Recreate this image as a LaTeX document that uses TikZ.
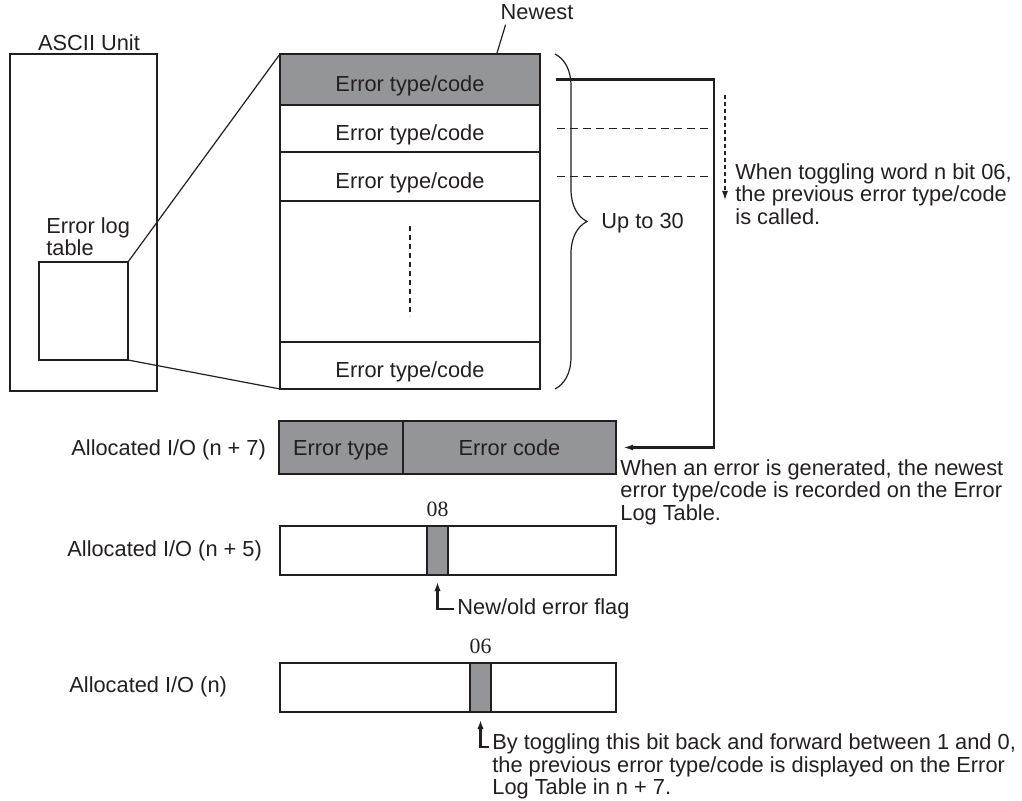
\documentclass[tikz,border=0pt]{standalone}
\usepackage{fontspec}
\setmainfont{Liberation Sans}
\newfontfamily\numfont{Liberation Serif}
\usetikzlibrary{arrows.meta,positioning,decorations.pathreplacing}
\definecolor{cellgray}{RGB}{147,149,152}
\definecolor{ink}{RGB}{35,31,32}

\begin{document}
\begin{tikzpicture}[
  x=0.5pt,y=-0.5pt,
  every node/.style={font=\fontsize{10.9}{11.4}\selectfont,text=ink},
  box/.style={draw=ink,line width=0.6pt,inner sep=0pt,outer sep=0pt},
  row/.style={box,minimum width=130pt,text height=14pt,text depth=2pt},
  reg/.style={box,fill=cellgray,minimum height=26.5pt,text height=10.5pt,text depth=2pt},
  shd/.style={fill=cellgray},
  bitc/.style={box,shd,line width=1pt,minimum width=10.5pt,minimum height=24.5pt},
  num/.style={font=\fontsize{10.9}{11.4}\selectfont\numfont,inner sep=0pt},
  note/.style={align=left,inner sep=0pt,anchor=north west},
  lbl/.style={anchor=west,inner sep=0pt},
  wire/.style={draw=ink,line width=0.6pt},
  dsh/.style={ink,line width=0.6pt,dash pattern=on 4pt off 2.5pt},
  feed/.style={ink,line width=1.4pt,-{Latex[length=5pt,width=3pt]}},
  ptr/.style={ink,line width=1.2pt,-{Latex[length=4.5pt,width=3.2pt]}}
]
  \useasboundingbox (0,0) rectangle (1022,801);

  % ASCII Unit with its error log table
  \node[box,minimum width=73.5pt,minimum height=168.5pt] (unit) at (83.5,222.5) {};
  \node[anchor=south,inner sep=1pt] (unitlbl) at (89,53) {ASCII Unit};
  \node[box,minimum width=44.5pt,minimum height=49pt] (log) at (83.5,311) {};
  \node[note] (loglbl) at (46,217) {Error log\\table};

  % the table, newest on top
  \node[row,shd,minimum height=25.5pt] (r1) at (410,79.5) {Error type/code};
  \node[row,minimum height=23.5pt,below=0pt of r1] (r2) {Error type/code};
  \node[row,minimum height=24.5pt,below=0pt of r2] (r3) {Error type/code};
  \node[row,minimum height=70.5pt,below=0pt of r3] (r4) {};
  \node[row,minimum height=23.5pt,below=0pt of r4] (r5) {Error type/code};
  \draw[dsh,dash pattern=on 2.5pt off 2pt] ([yshift=22.5pt]r4.center) -- ([yshift=-22.5pt]r4.center);
  \draw[wire] (log.north east) -- (r1.north west);
  \draw[wire] (log.south east) -- (r5.south west);

  \node (newest) at (537,12) {Newest};
  \coordinate (nwtip) at (497,53);
  \draw[wire] (nwtip) -- ([xshift=6pt,yshift=1pt]newest.south west);

  \draw[wire,decorate,decoration={brace,amplitude=16pt}]
    ([xshift=7.5pt]r1.north east) -- ([xshift=7.5pt]r5.south east);
  \node[lbl] (upto) at (601,223) {Up to 30};

  % Allocated I/O (n + 7)
  \node[reg,minimum width=62pt] (etype) at (341,447.5) {Error type};
  \node[reg,minimum width=106.5pt,right=0pt of etype] (ecode) {Error code};
  \node[lbl] (io7) at (71,450) {Allocated I/O (n + 7)};

  \coordinate (turn) at (714,0);
  \draw[feed] ([xshift=8pt]r1.east) -- (r1.east -| turn) |- ([xshift=3.5pt]ecode.east);
  \draw[dsh] ([xshift=8.5pt]r2.east) -- (r2.east -| turn);
  \draw[dsh] ([xshift=8.5pt]r3.east) -- (r3.east -| turn);

  \coordinate (callA) at (725,95);
  \coordinate (callB) at (725,200);
  \draw[dsh,dash pattern=on 2pt off 1.5pt,-{Latex[length=4.5pt,width=3pt]}] (callA) -- (callB);
  \node[note] (calltxt) at (735,163) {When toggling word n bit 06,\\the previous error type/code\\is called.};
  \node[note] (gentxt) at (620,459) {When an error is generated, the newest\\error type/code is recorded on the Error\\Log Table.};

  % Allocated I/O (n + 5)
  \node[box,minimum width=168pt,minimum height=24.5pt] (io5reg) at (448,550.5) {};
  \node[bitc] (bit8) at (437.5,550.5) {};
  \node[num,above=4.5pt of bit8] (b8lbl) {08};
  \node[lbl] (io5) at (67,551) {Allocated I/O (n + 5)};
  \node[lbl] (flag) at (457,609) {New/old error flag};
  \draw[ptr] ([xshift=-1.5pt]flag.west) -| ([yshift=-3.5pt]bit8.south);

  % Allocated I/O (n)
  \node[box,minimum width=168pt,minimum height=24.5pt] (io0reg) at (448,687.5) {};
  \node[bitc] (bit6) at (480.5,687.5) {};
  \node[num,above=4.5pt of bit6] (b6lbl) {06};
  \node[lbl] (io0) at (69,687) {Allocated I/O (n)};
  \node[note] (toggle) at (492,733) {By toggling this bit back and forward between 1 and 0,\\the previous error type/code is displayed on the Error\\Log Table in n + 7.};
  \draw[ptr] ([shift={(-1.5pt,-7pt)}]toggle.north west) -| ([yshift=-4pt]bit6.south);
\end{tikzpicture}
\end{document}
